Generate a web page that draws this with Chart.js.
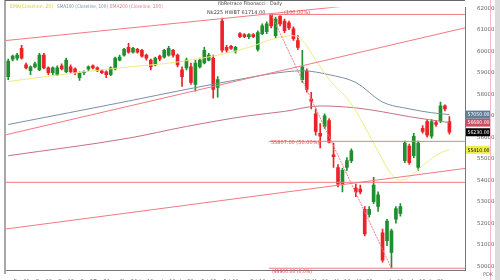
<!DOCTYPE html>
<html><head><meta charset="utf-8">
<script src="https://cdn.jsdelivr.net/npm/chart.js@4.4.1/dist/chart.umd.min.js"></script>
<style>html,body{margin:0;padding:0;background:#fff;overflow:hidden}canvas{display:block}</style>
</head><body>
<canvas id="c" width="500" height="280"></canvas>
<script>
// ---- candle data (daily) ----
const opens  = [58819,59637,59682,60137,59364,59091,59273,59137,59819,59228,59000,58909,59319,59046,59273,59182,58773,59000,59182,59319,59228,59091,59046,58909,59182,59591,59819,60182,59955,60091,60046,59819,59591,59364,59773,59728,59819,60046,59819,59137,59228,59273,58455,59273,59455,59591,59682,58319,61409,60182,60228,60000,60818,60773,60682,60773,60091,60818,60909,61700,60727,61636,61409,61318,61046,60500,58682,59091,57773,57091,56182,56500,56773,55182,54591,53819,54591,54910,53637,53591,52637,52410,53001,52773,51546,51183,50637,52183,52455,54910,55592,55137,54592,56410,56728,56046,56682,56773,57455,56728];
const highs  = [59637,59819,59909,60273,59455,59319,59500,59909,59909,59273,59273,59319,59410,59682,59364,59228,59046,59091,59319,59364,59273,59137,59091,59273,59728,59819,60137,60364,60182,60137,60091,59864,59637,59728,59819,60091,60228,60091,59864,59273,59682,59455,59591,59682,60182,59909,59819,58819,61546,60273,60273,60228,60864,60818,60818,60818,60955,61273,61364,61714,61591,61650,61500,61409,61137,60727,60046,59182,58091,57319,56637,57091,56864,55728,54728,54546,55046,55455,53819,53773,52773,52773,54137,53455,51728,52183,51728,52773,52910,55819,55682,56182,55819,56546,56819,56819,56773,57637,57501,56955];
const lows   = [58682,59546,59591,59637,59182,58909,59228,59091,59182,58909,58909,58864,59137,59000,59000,58909,58637,58909,59091,59182,59046,58955,58773,58864,59137,59546,59773,59909,59909,59909,59728,59591,59137,59319,59546,59682,59773,59728,59273,58364,59137,58455,58137,59228,59410,59546,57819,57864,59955,59955,60091,59909,60637,60637,60591,60637,60000,60773,60818,61091,60637,61182,60864,61000,60500,60091,58546,58091,57319,56091,55500,56409,55728,54591,53682,53455,54455,54819,53228,53364,51410,52273,52910,52546,50183,50955,49900,52001,52319,54819,54728,55046,54455,56182,56001,55955,56501,56682,57228,56140];
const closes = [59546,59773,59819,59682,59228,59273,59410,59819,59228,59000,59228,59228,59182,59591,59046,59000,59000,59046,59273,59228,59091,59000,58909,59228,59682,59728,60091,59955,60137,59955,59773,59682,59273,59682,59637,60046,60137,59819,59364,58819,59591,58546,59455,59591,60046,59819,58228,58682,60046,60046,60137,60182,60682,60682,60773,60682,60864,61182,61273,61182,61500,61273,60955,61091,60591,60182,59273,58228,57682,56273,56046,57000,55773,55091,53819,54455,54910,55364,53455,53455,51501,52637,53773,53319,50274,52092,51637,52683,52773,55728,54819,56046,55728,56273,56091,56728,56592,57455,57319,56230];

// ---- x-axis date ticks (bar index -> label) ----
const tickIdx  = [3,8,13,18,21,27,31,36,40,45,50,56,61,66,70,75,80,87,92,96];
const tickText = ['Dec01','Dec08','Dec15','Dec22','Dec29','5Jan26','Jan13','Jan19','Jan26','Feb02','Feb09','Feb16','Feb24','Mar02','Mar09','Mar16','Mar23','Apr06','Apr13','Apr20'];
const yTicks = [50000,51000,52000,53000,54000,55000,56000,57000,58000,59000,60000,61000,62000];

// ---- moving averages (bar index, value) ----
const ema20Idx = [0,17,25,38,47,54,59,64,66,69,72,77,82,86,88,90,93,97,99];
const ema20Val = [58591,59046,59228,59500,59819,60182,60545,60727,60500,59591,58682,57546,55728,54273,54000,54137,54682,55273,55410];
const sma100Idx = [0,27,40,54,59,66,72,78,84,90,95,99];
const sma100Val = [56591,57682,58228,58773,58955,59091,58909,58546,57637,57319,57140,57050];
const ema200Idx = [0,27,40,54,62,70,78,84,90,99];
const ema200Val = [55137,55955,56500,56999,57200,57455,57364,57182,56955,56680];

// ---- drawn lines (bar index endpoints, price) ----
const trendUpIdx = [-0.5,102.5];  const trendUpVal = [56114,61091];
const trendTopIdx = [-0.5,102.5]; const trendTopVal = [60500,62668];
const trendLowIdx = [-0.5,102.5]; const trendLowVal = [51728,54546];
const supportIdx = [-0.5,102.5];  const supportVal = [53900,53900];
const fibHigh = 61714, fibLow = 49900, fibHighIdx = 59, fibLowIdx = 86;

const N = 103;
const UP='#1f8f2f', DN='#ec2228';
const cols = closes.map((c,i)=>c>=opens[i]?UP:DN);
const bodies = opens.map((o,i)=>{let a=Math.min(o,closes[i]),b=Math.max(o,closes[i]);if(b-a<25){b+=15;a-=15;}return {x:i,y:[a,b]};});
const wicks = lows.map((l,i)=>({x:i,y:[l,highs[i]]}));
const pts=(ix,vv)=>ix.map((x,k)=>({x:x,y:vv[k]}));
const fib50 = (fibHigh+fibLow)/2;
const lineDs=(label,data,color,w,extra)=>Object.assign({type:'line',label,data,borderColor:color,borderWidth:w,pointRadius:0,fill:false,order:0},extra||{});

const yMax=62046, yMin=49819;

const overlay = {
  id:'overlay',
  afterDraw(chart){
    const ctx=chart.ctx, ca=chart.chartArea, y=chart.scales.y, x=chart.scales.x;
    ctx.save();
    // frame
    ctx.fillStyle='#a8a8a8'; ctx.fillRect(4,0,2,274);
    ctx.strokeStyle='#666'; ctx.lineWidth=1;
    ctx.beginPath(); ctx.moveTo(5,0.5); ctx.lineTo(ca.right,0.5); ctx.stroke();
    ctx.strokeStyle='#f2b8c8'; ctx.beginPath(); ctx.moveTo(490.5,0); ctx.lineTo(490.5,280); ctx.stroke();
    ctx.fillStyle='#dcdcdc'; ctx.fillRect(495,0,5,280);
    // legend
    ctx.font='5px "DejaVu Sans"'; ctx.textBaseline='middle';
    ctx.fillStyle='#d8d040'; ctx.fillText('EMA(Closeline, 20)',10,7,43);
    ctx.fillStyle='#7a90a8'; ctx.fillText('SMA100 (Closeline, 100)',57,7,51);
    ctx.fillStyle='#e07a88'; ctx.fillText('EMA200 (Closeline, 200)',110,7,53);
    // fib labels
    const x0=x.getPixelForValue(fibHighIdx-0.5);
    ctx.fillStyle='#444'; ctx.fillText('fibRetrace Fibonacci : Daily',218,3.5,64);
    ctx.fillText('Nk225 HWBT '+fibHigh.toFixed(2),207,13,72);
    ctx.fillStyle='#e8404a'; ctx.fillText('(100.00%)',284,13,32);
    ctx.fillText(fib50.toFixed(2)+' (50.00%)',x0+2,y.getPixelForValue(fib50)+1,50);
    ctx.fillText('('+fibLow.toFixed(2)+' (0.0%)',x0+3,y.getPixelForValue(fibLow)+3,40);
    // price boxes (stacked upward from the lowest one)
    const boxes=[[sma100Val[sma100Val.length-1],'#5f7f9a','#fff'],[ema200Val[ema200Val.length-1],'#c85060','#fff'],[closes[closes.length-1],'#000','#fff'],[ema20Val[ema20Val.length-1],'#eeee50','#000']];
    let prev=1e9;
    boxes.map(b=>({v:b[0],bg:b[1],fg:b[2],py:y.getPixelForValue(b[0])})).sort((a,b)=>b.py-a.py).forEach(b=>{
      let py=Math.min(b.py,prev-8); prev=py;
      ctx.fillStyle=b.bg; ctx.fillRect(466,py-4,24,8);
      ctx.fillStyle=b.fg; ctx.fillText(b.v.toFixed(2),467.5,py+0.5,22);
    });
    ctx.fillStyle='#777'; ctx.fillText('PDK',483,275);
    ctx.restore();
  }
};

new Chart(document.getElementById('c'),{
  type:'bar',
  data:{datasets:[
    {label:'wick',data:wicks,backgroundColor:cols,barThickness:1,grouped:false,order:3},
    {label:'body',data:bodies,backgroundColor:cols,barThickness:3,grouped:false,order:2},
    lineDs('trendUp',pts(trendUpIdx,trendUpVal),'#f07a80',1),
    lineDs('trendTop',pts(trendTopIdx,trendTopVal),'#f07a80',1),
    lineDs('trendLow',pts(trendLowIdx,trendLowVal),'#f07a80',1),
    lineDs('support',pts(supportIdx,supportVal),'#f07a80',1),
    lineDs('fib100',pts([fibHighIdx-0.5,102.5],[fibHigh,fibHigh]),'#f07a80',1),
    lineDs('fib50',pts([fibHighIdx-0.5,102.5],[fib50,fib50]),'#f07a80',1),
    lineDs('fib0',pts([fibHighIdx-0.5,102.5],[fibLow,fibLow]),'#f07a80',1),
    lineDs('fibDiag',pts([fibHighIdx,fibLowIdx],[fibHigh,fibLow]),'#f07a80',1,{borderDash:[2,1]}),
    lineDs('EMA20',pts(ema20Idx,ema20Val),'#eeea80',1,{cubicInterpolationMode:'monotone'}),
    lineDs('SMA100',pts(sma100Idx,sma100Val),'#7890a8',1,{cubicInterpolationMode:'monotone'}),
    lineDs('EMA200',pts(ema200Idx,ema200Val),'#c87080',1,{cubicInterpolationMode:'monotone'})
  ]},
  options:{
    responsive:false,animation:false,devicePixelRatio:1,
    layout:{padding:{left:6,top:1,right:0,bottom:0}},
    plugins:{legend:{display:false},tooltip:{enabled:false}},
    scales:{
      x:{type:'linear',offset:false,min:-0.5,max:N-0.5,grid:{display:false},border:{color:'#777'},
         ticks:{autoSkip:false,maxRotation:0,minRotation:0,padding:1,color:'#666',font:{size:5,family:'DejaVu Sans'},
                callback:v=>{const k=tickIdx.indexOf(v);return k>=0?tickText[k]:'';}},
         afterBuildTicks:s=>{s.ticks=tickIdx.map(v=>({value:v}));},
         afterFit:s=>{s.height=10;s.paddingLeft=0;s.paddingRight=0;}},
      y:{position:'right',min:yMin,max:yMax,grid:{display:false},border:{color:'#777'},
         ticks:{padding:4,color:'#666',font:{size:5.5,family:'DejaVu Sans'},callback:v=>String(v)},
         afterBuildTicks:s=>{s.ticks=yTicks.map(v=>({value:v}));},
         afterFit:s=>{s.width=35;}}
    }
  },
  plugins:[overlay]
});
</script>
</body></html>
